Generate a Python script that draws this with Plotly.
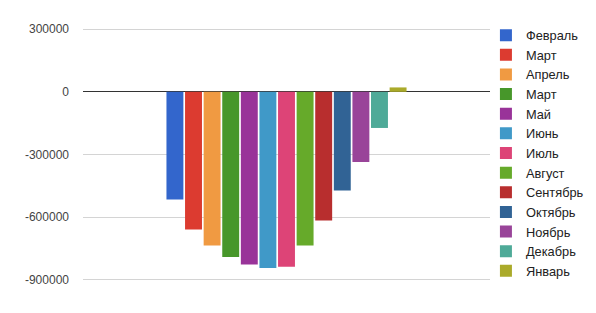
import plotly.graph_objects as go

months = ["Февраль", "Март", "Апрель", "Март", "Май", "Июнь", "Июль",
          "Август", "Сентябрь", "Октябрь", "Ноябрь", "Декабрь", "Январь"]
values = [-515000, -659000, -736000, -790000, -827000, -843000, -837000,
          -736000, -616000, -472000, -336000, -173000, 21000]
colors = ["#3366cc", "#dc3b30", "#f09a42", "#47972a", "#993399", "#4099c8",
          "#dd4477", "#66aa2a", "#b82e2e", "#316395", "#994499", "#4eaa98",
          "#aaaa2a"]
tick_vals = [300000, 0, -300000, -600000, -900000]

fig = go.Figure()
for name, v, c in zip(months, values, colors):
    fig.add_trace(go.Bar(x=[""], y=[v], name=name, marker=dict(color=c, line=dict(width=0))))

fig.update_layout(
    width=596, height=313,
    margin=dict(l=83, r=106, t=26, b=30, autoexpand=False),
    paper_bgcolor="white", plot_bgcolor="white",
    barmode="group", bargap=0.406, bargroupgap=0.09,
    font=dict(family="Liberation Sans, Arial, sans-serif", size=12, color="#444"),
    showlegend=True,
    legend=dict(x=0.99, xanchor="left", y=1.022, yanchor="top",
                font=dict(size=12.8, color="#222"), bgcolor="rgba(0,0,0,0)",
                traceorder="normal", itemclick=False, maxheight=313),
    xaxis=dict(type="category", range=[-0.5, 0.5], showticklabels=False,
               showgrid=False, zeroline=False, showline=False, ticks=""),
    yaxis=dict(range=[-915000, 315000], tickvals=tick_vals,
               ticktext=[str(t) for t in tick_vals],
               showgrid=True, gridcolor="#d4d4d4", gridwidth=1,
               zeroline=True, zerolinecolor="#333333", zerolinewidth=1,
               showline=False, ticks="", ticklabelstandoff=13,
               tickfont=dict(size=12, color="#444")),
)
fig.write_html("out.html")
